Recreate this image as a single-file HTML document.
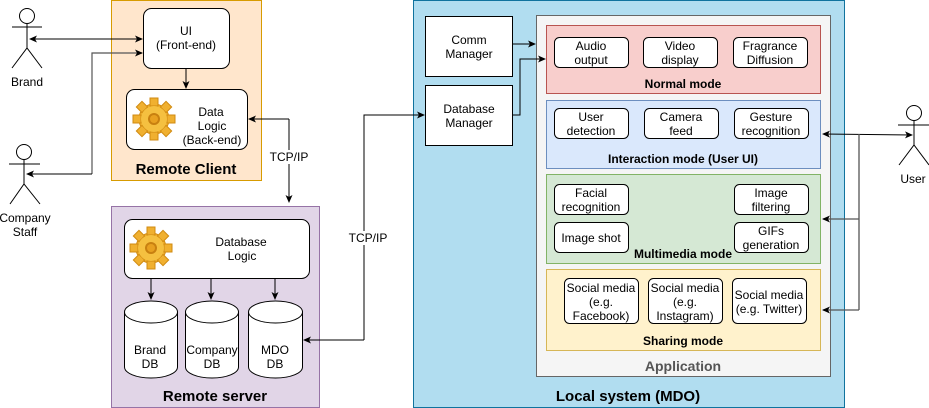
<!DOCTYPE html>
<html><head><meta charset="utf-8"><style>
body{margin:0;background:#fff}
svg{display:block;font-family:"Liberation Sans",sans-serif}
</style></head><body>
<svg width="929" height="408" viewBox="0 0 929 408" xmlns="http://www.w3.org/2000/svg">
<defs>
<marker id="a" markerWidth="8" markerHeight="8" refX="7" refY="4" orient="auto" markerUnits="userSpaceOnUse"><path d="M0,0.5 L8,4 L0,7.5 L2,4 z" fill="#000"/></marker>
<marker id="as" markerWidth="8" markerHeight="8" refX="1" refY="4" orient="auto" markerUnits="userSpaceOnUse"><path d="M8,0.5 L0,4 L8,7.5 L6,4 z" fill="#000"/></marker>
<g id="gear">
<circle cx="0" cy="0" r="15" fill="#f0b030" stroke="#d08a10" stroke-width="1"/>
<g fill="#f0b030" stroke="#d08a10" stroke-width="1">
<rect x="-4" y="-21" width="8" height="8"/><rect x="-4" y="13" width="8" height="8"/>
<rect x="-21" y="-4" width="8" height="8"/><rect x="13" y="-4" width="8" height="8"/>
<rect x="-4" y="-21" width="8" height="8" transform="rotate(45)"/><rect x="-4" y="13" width="8" height="8" transform="rotate(45)"/>
<rect x="-21" y="-4" width="8" height="8" transform="rotate(45)"/><rect x="13" y="-4" width="8" height="8" transform="rotate(45)"/>
</g>
<circle cx="0" cy="0" r="13" fill="#f5c040"/>
<circle cx="0" cy="0" r="6" fill="#c88010"/>
<circle cx="0" cy="0" r="4" fill="#e8a020"/>
</g>
</defs>

<!-- Remote client -->
<rect x="111.5" y="0.5" width="150" height="180" fill="#ffe6cc" stroke="#d79b00"/>
<rect x="143.5" y="8.5" width="86" height="60" rx="8" fill="#fff" stroke="#000"/>
<text x="186" y="35" font-size="12" text-anchor="middle">UI</text>
<text x="186" y="49" font-size="12" text-anchor="middle">(Front-end)</text>
<rect x="126.5" y="89.5" width="121" height="60" rx="8" fill="#fff" stroke="#000"/>
<use href="#gear" x="154" y="119"/>
<text x="211" y="116" font-size="12" text-anchor="middle">Data</text>
<text x="212" y="130" font-size="12" text-anchor="middle">Logic</text>
<text x="212" y="144" font-size="12" text-anchor="middle">(Back-end)</text>
<text x="186" y="174" font-size="15" font-weight="bold" text-anchor="middle">Remote Client</text>
<line x1="186" y1="69" x2="186" y2="88" stroke="#000" marker-end="url(#a)"/>

<!-- Remote server -->
<rect x="111.5" y="206.5" width="208" height="201" fill="#e1d5e7" stroke="#9673a6"/>
<rect x="124.5" y="219.5" width="185" height="59" rx="8" fill="#fff" stroke="#000"/>
<use href="#gear" x="151" y="248"/>
<text x="241" y="246" font-size="12" text-anchor="middle">Database</text>
<text x="242" y="260" font-size="12" text-anchor="middle">Logic</text>
<line x1="151" y1="279" x2="151" y2="299" stroke="#000" marker-end="url(#a)"/>
<line x1="211" y1="279" x2="211" y2="299" stroke="#000" marker-end="url(#a)"/>
<line x1="275" y1="279" x2="275" y2="299" stroke="#000" marker-end="url(#a)"/>
<g fill="#fff" stroke="#000">
<path d="M124.5,312 A26.5,11 0 0 1 177.5,312 L177.5,367 A26.5,11 0 0 1 124.5,367 Z"/>
<path d="M124.5,312 A26.5,11 0 0 0 177.5,312" fill="none"/>
<path d="M185.5,312 A26.5,11 0 0 1 238.5,312 L238.5,367 A26.5,11 0 0 1 185.5,367 Z"/>
<path d="M185.5,312 A26.5,11 0 0 0 238.5,312" fill="none"/>
<path d="M248.5,312 A27,11 0 0 1 302.5,312 L302.5,367 A27,11 0 0 1 248.5,367 Z"/>
<path d="M248.5,312 A27,11 0 0 0 302.5,312" fill="none"/>
</g>
<g font-size="12" text-anchor="middle">
<text x="150" y="354">Brand</text><text x="150" y="368">DB</text>
<text x="212" y="354">Company</text><text x="212" y="368">DB</text>
<text x="275" y="354">MDO</text><text x="275" y="368">DB</text>
</g>
<text x="215" y="401" font-size="15" font-weight="bold" text-anchor="middle">Remote server</text>

<!-- TCP/IP client-server -->
<polyline points="289,119 289,202" fill="none" stroke="#000" marker-end="url(#a)"/>
<line x1="289" y1="119" x2="249" y2="119" stroke="#000" marker-end="url(#a)"/>
<rect x="268" y="150" width="44" height="14" fill="#fff"/>
<text x="289" y="161" font-size="12" text-anchor="middle">TCP/IP</text>

<!-- Local system -->
<rect x="413.5" y="0.5" width="431" height="407" fill="#b1ddf0" stroke="#10739e"/>
<polyline points="364,340 364,115 424,115" fill="none" stroke="#000" marker-end="url(#a)"/>
<line x1="364" y1="340" x2="304" y2="340" stroke="#000" marker-end="url(#a)"/>
<rect x="346" y="231" width="44" height="14" fill="#fff"/>
<text x="368" y="242" font-size="12" text-anchor="middle">TCP/IP</text>

<rect x="425.5" y="16.5" width="87" height="60" fill="#fff" stroke="#000"/>
<text x="469" y="44" font-size="12" text-anchor="middle">Comm</text>
<text x="469" y="58" font-size="12" text-anchor="middle">Manager</text>
<rect x="425.5" y="85.5" width="87" height="60" fill="#fff" stroke="#000"/>
<text x="469" y="113" font-size="12" text-anchor="middle">Database</text>
<text x="469" y="127" font-size="12" text-anchor="middle">Manager</text>

<rect x="536.5" y="15.5" width="294" height="361" fill="#f5f5f5" stroke="#666"/>
<line x1="513" y1="44" x2="535" y2="44" stroke="#000" marker-end="url(#a)"/>
<polyline points="513,115 520,115 520,59 545,59" fill="none" stroke="#000" marker-end="url(#a)"/>

<rect x="546.5" y="25.5" width="274" height="68" fill="#f8cecc" stroke="#b85450"/>
<rect x="546.5" y="100.5" width="274" height="68" fill="#dae8fc" stroke="#6c8ebf"/>
<rect x="546.5" y="174.5" width="274" height="89" fill="#d5e8d4" stroke="#82b366"/>
<rect x="546.5" y="269.5" width="274" height="81" fill="#fff2cc" stroke="#d6b656"/>

<g fill="#fff" stroke="#000">
<rect x="554.5" y="37.5" width="74" height="30" rx="5"/>
<rect x="643.5" y="37.5" width="74" height="30" rx="5"/>
<rect x="733.5" y="37.5" width="74" height="30" rx="5"/>
<rect x="554.5" y="108.5" width="74" height="30" rx="5"/>
<rect x="644.5" y="108.5" width="74" height="30" rx="5"/>
<rect x="734.5" y="108.5" width="74" height="30" rx="5"/>
<rect x="554.5" y="184.5" width="74" height="30" rx="5"/>
<rect x="554.5" y="222.5" width="74" height="30" rx="5"/>
<rect x="734.5" y="184.5" width="74" height="30" rx="5"/>
<rect x="734.5" y="222.5" width="74" height="30" rx="5"/>
<rect x="564.5" y="278.5" width="74" height="45" rx="5"/>
<rect x="648.5" y="278.5" width="74" height="45" rx="5"/>
<rect x="732.5" y="278.5" width="74" height="45" rx="5"/>
</g>
<g font-size="12" text-anchor="middle">
<text x="591" y="50">Audio</text><text x="591" y="64">output</text>
<text x="680" y="50">Video</text><text x="680" y="64">display</text>
<text x="770" y="50">Fragrance</text><text x="770" y="64">Diffusion</text>
<text x="591" y="121">User</text><text x="591" y="135">detection</text>
<text x="681" y="121">Camera</text><text x="681" y="135">feed</text>
<text x="771" y="121">Gesture</text><text x="771" y="135">recognition</text>
<text x="591" y="197">Facial</text><text x="591" y="211">recognition</text>
<text x="591" y="242">Image shot</text>
<text x="771" y="197">Image</text><text x="771" y="211">filtering</text>
<text x="771" y="235">GIFs</text><text x="771" y="249">generation</text>
<text x="601" y="292">Social media</text><text x="601" y="306">(e.g.</text><text x="601" y="320">Facebook)</text>
<text x="685" y="292">Social media</text><text x="685" y="306">(e.g.</text><text x="685" y="320">Instagram)</text>
<text x="769" y="299">Social media</text><text x="769" y="313">(e.g. Twitter)</text>
</g>
<g font-size="12" font-weight="bold" text-anchor="middle">
<text x="683" y="88">Normal mode</text>
<text x="683" y="163">Interaction mode (User UI)</text>
<text x="683" y="258">Multimedia mode</text>
<text x="683" y="345">Sharing mode</text>
</g>
<text x="683" y="371" font-size="14" font-weight="bold" fill="#555" text-anchor="middle">Application</text>
<text x="628" y="401" font-size="15" font-weight="bold" text-anchor="middle">Local system (MDO)</text>

<!-- User -->
<line x1="823" y1="134" x2="912" y2="135" stroke="#000" marker-start="url(#as)" marker-end="url(#a)"/>
<polyline points="859,134 859,310" fill="none" stroke="#555" stroke-width="1.3"/>
<line x1="859" y1="219" x2="823" y2="219" stroke="#555" stroke-width="1.3" marker-end="url(#a)"/>
<line x1="859" y1="310" x2="823" y2="310" stroke="#555" stroke-width="1.3" marker-end="url(#a)"/>
<g fill="none" stroke="#000">
<circle cx="914" cy="113" r="7.5" fill="#fff"/>
<line x1="914" y1="121" x2="914" y2="145"/><line x1="898" y1="125" x2="929" y2="125"/>
<polyline points="899,165 914,145 929,165"/>
<circle cx="27" cy="16" r="7.5" fill="#fff"/>
<line x1="27" y1="24" x2="27" y2="48"/><line x1="12" y1="27" x2="42" y2="27"/>
<polyline points="12,68 27,48 42,68"/>
<circle cx="24" cy="152" r="7.5" fill="#fff"/>
<line x1="24" y1="160" x2="24" y2="184"/><line x1="9" y1="164" x2="40" y2="164"/>
<polyline points="10,204 24,184 40,204"/>
</g>
<text x="913" y="183" font-size="12" text-anchor="middle">User</text>
<text x="27" y="86" font-size="12" text-anchor="middle">Brand</text>
<text x="25" y="222" font-size="12" text-anchor="middle">Company</text>
<text x="25" y="236" font-size="12" text-anchor="middle">Staff</text>

<line x1="30" y1="39" x2="142" y2="39" stroke="#000" marker-start="url(#as)" marker-end="url(#a)"/>
<polyline points="92,174 92,53 142,53" fill="none" stroke="#555" stroke-width="1.2" marker-end="url(#a)"/>
<line x1="92" y1="174" x2="27" y2="174" stroke="#000" marker-end="url(#a)"/>
</svg>
</body></html>
